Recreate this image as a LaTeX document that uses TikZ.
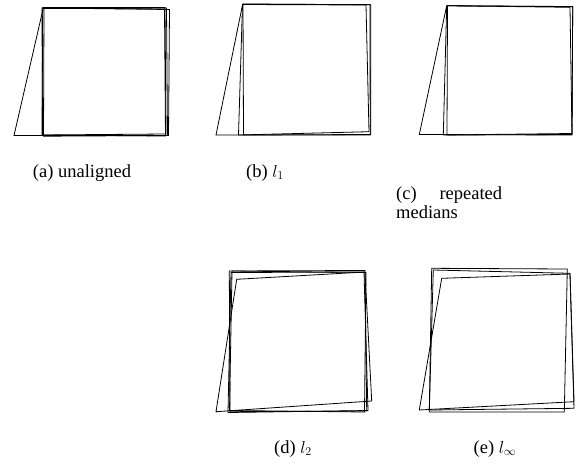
\documentclass[tikz,border=0pt]{standalone}
\usepackage{fontspec}
\setmainfont{Liberation Serif}
\begin{document}
\begin{tikzpicture}[x=1pt,y=-1pt,
  quad/.style={draw=black,line width=0.8pt,line join=miter},
  captext/.style={anchor=base,font=\fontsize{18.5}{19}\selectfont,inner sep=0pt}]
\useasboundingbox (0,0) rectangle (579,466);
% ---------- (a) unaligned ----------
\draw[quad] (14,135.5) -- (43.3,8) -- (169.5,9.5) -- (168.5,135.5) -- cycle;
\draw[quad] (42.7,7.5) -- (165,7.5) -- (166,134) -- (42,135) -- cycle;
\draw[quad] (44,8.5) -- (166.5,8) -- (167.5,135.5) -- (43.5,136.2) -- cycle;
\draw[quad] (42,8) -- (164.5,9) -- (165.5,136) -- (42.5,135) -- cycle;
% ---------- (b) l1 ----------
\draw[quad] (216,135) -- (242.7,4) -- (370.7,4.7) -- (370.7,135) -- cycle;
\draw[quad] (242.5,4.5) -- (366,5) -- (369,131.7) -- (238.5,135) -- cycle;
\draw[quad] (243,4.3) -- (370,4.5) -- (370.2,134.5) -- (243.5,135) -- cycle;
% ---------- (c) repeated medians ----------
\draw[quad] (419.3,134.5) -- (446.7,5.7) -- (572.7,6.7) -- (572,135) -- cycle;
\draw[quad] (446.7,5.7) -- (570,7.3) -- (572,133.5) -- (443.3,135) -- cycle;
\draw[quad] (447.5,5.8) -- (572.7,6.5) -- (572,134.5) -- (447,135) -- cycle;
% ---------- (d) l2 ----------
\draw[quad] (216,411.7) -- (236.7,279.3) -- (365,272) -- (371.7,401) -- cycle;
\draw[quad] (229.3,271) -- (365,270.5) -- (366.7,411) -- (230,411.7) -- cycle;
\draw[quad] (231,272.5) -- (364,272) -- (368,410.5) -- (228,412.5) -- cycle;
\draw[quad] (232,271) -- (366,272.5) -- (364.5,412) -- (229.5,410.5) -- cycle;
% ---------- (e) l_infty ----------
\draw[quad] (419.3,410) -- (441.7,278.3) -- (570,274) -- (574,401.7) -- cycle;
\draw[quad] (431.7,268.3) -- (567.3,269) -- (564.3,412) -- (429.3,412) -- cycle;
\draw[quad] (433.3,270) -- (570,273.3) -- (574,408.3) -- (429.3,410) -- cycle;
% ---------- captions ----------
\node[captext] (ca) at (82,177) {(a) unaligned};
\node[captext] (cb) at (265,177) {(b) $l_1$};
\node[captext,anchor=base west,align=left] (cc) at (396,218)
  {\makebox[106pt][s]{(c) repeated}\\medians};
\node[captext] (cd) at (293,453) {(d) $l_2$};
\node[captext] (ce) at (495,453) {(e) $l_\infty$};
\end{tikzpicture}
\end{document}
